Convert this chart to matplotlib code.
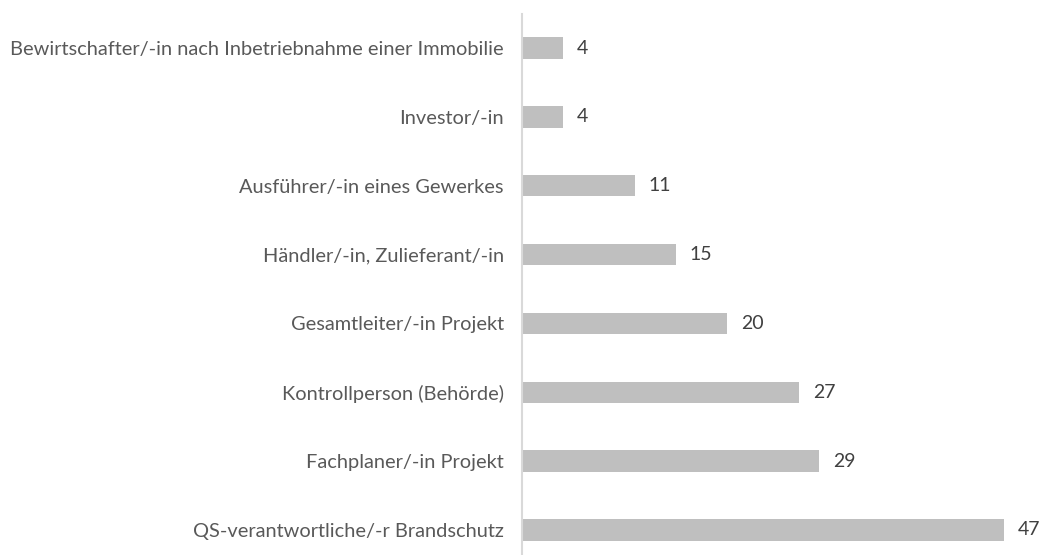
import matplotlib.pyplot as plt

categories = [
    'Bewirtschafter/-in nach Inbetriebnahme einer Immobilie',
    'Investor/-in',
    'Ausführer/-in eines Gewerkes',
    'Händler/-in, Zulieferant/-in',
    'Gesamtleiter/-in Projekt',
    'Kontrollperson (Behörde)',
    'Fachplaner/-in Projekt',
    'QS-verantwortliche/-r Brandschutz',
]
values = [4, 4, 11, 15, 20, 27, 29, 47]

plt.rcParams['font.family'] = ['Lato', 'DejaVu Sans']

fig = plt.figure(figsize=(10.45, 5.55), dpi=100)
ax = fig.add_axes([522 / 1045, 0, 1 - 522 / 1045, 1 - 14 / 555])

pos = list(range(len(categories)))
bars = ax.barh(pos, values, height=0.31, color='#BFBFBF')
ax.bar_label(bars, labels=[str(v) for v in values], padding=10,
             fontsize=14, color='#404040')

ax.set_yticks(pos)
ax.set_yticklabels(categories, fontsize=14.4, color='#595959')
ax.tick_params(axis='y', length=0, pad=13)
ax.set_ylim(7 + 25 / 68.8, -34 / 68.8)
ax.set_xlim(0, 51)
ax.set_xticks([])

for s in ['top', 'right', 'bottom']:
    ax.spines[s].set_visible(False)
ax.spines['left'].set_color('#D9D9D9')
ax.spines['left'].set_linewidth(1.5)

fig.savefig('out.png', dpi=100)
